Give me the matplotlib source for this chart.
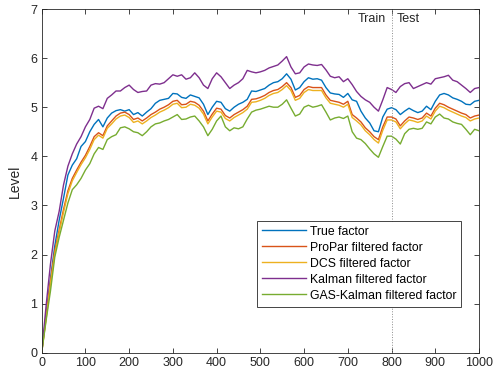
import numpy as np
import matplotlib
matplotlib.use("Agg")
import matplotlib.pyplot as plt

plt.rcParams['font.family'] = ['Liberation Sans', 'DejaVu Sans']

# time index, one value every 10 steps
t = np.arange(0, 1001, 10)

true_factor = [
    0.00, 0.77, 1.50, 2.18, 2.70, 3.15, 3.62, 3.82, 3.95, 4.20,
    4.30, 4.50, 4.65, 4.75, 4.60, 4.78, 4.88, 4.93, 4.95, 4.92,
    4.95, 4.85, 4.89, 4.82, 4.90, 4.97, 5.08, 5.14, 5.16, 5.18,
    5.28, 5.27, 5.20, 5.18, 5.25, 5.22, 5.19, 5.06, 4.85, 5.00,
    5.12, 5.10, 4.97, 4.92, 5.00, 5.06, 5.10, 5.16, 5.33, 5.32,
    5.35, 5.38, 5.45, 5.50, 5.52, 5.58, 5.68, 5.57, 5.35, 5.40,
    5.52, 5.60, 5.57, 5.58, 5.55, 5.40, 5.29, 5.27, 5.26, 5.20,
    5.28, 5.15, 5.12, 4.92, 4.78, 4.68, 4.52, 4.50, 4.80, 4.96,
    4.99, 4.95, 4.85, 4.92, 4.98, 4.93, 4.89, 4.92, 5.02, 4.95,
    5.12, 5.25, 5.28, 5.25, 5.19, 5.16, 5.12, 5.06, 5.05, 5.12,
    5.14,
]

propar = [
    0.00, 0.72, 1.45, 2.08, 2.50, 2.92, 3.30, 3.55, 3.72, 3.88,
    4.02, 4.20, 4.40, 4.48, 4.42, 4.62, 4.72, 4.82, 4.88, 4.90,
    4.85, 4.75, 4.78, 4.72, 4.78, 4.85, 4.90, 4.96, 5.00, 5.05,
    5.12, 5.14, 5.05, 5.06, 5.12, 5.10, 5.04, 4.92, 4.72, 4.86,
    4.98, 4.96, 4.83, 4.78, 4.85, 4.90, 4.95, 5.02, 5.16, 5.17,
    5.20, 5.24, 5.30, 5.34, 5.36, 5.42, 5.50, 5.40, 5.20, 5.24,
    5.36, 5.42, 5.40, 5.40, 5.40, 5.25, 5.14, 5.12, 5.10, 5.06,
    5.12, 4.85, 4.78, 4.70, 4.58, 4.50, 4.40, 4.34, 4.60, 4.80,
    4.80, 4.76, 4.62, 4.72, 4.80, 4.78, 4.75, 4.78, 4.88, 4.82,
    4.98, 5.08, 5.05, 5.00, 4.96, 4.92, 4.88, 4.85, 4.78, 4.82,
    4.84,
]

dcs = [
    0.00, 0.68, 1.40, 2.02, 2.45, 2.86, 3.24, 3.50, 3.67, 3.83,
    3.97, 4.14, 4.34, 4.43, 4.37, 4.57, 4.66, 4.76, 4.82, 4.84,
    4.79, 4.69, 4.72, 4.66, 4.72, 4.79, 4.84, 4.90, 4.94, 4.99,
    5.06, 5.08, 4.99, 5.00, 5.06, 5.04, 4.98, 4.86, 4.66, 4.80,
    4.92, 4.90, 4.77, 4.72, 4.79, 4.84, 4.89, 4.96, 5.10, 5.11,
    5.14, 5.18, 5.24, 5.28, 5.30, 5.36, 5.44, 5.34, 5.14, 5.18,
    5.30, 5.36, 5.34, 5.34, 5.34, 5.19, 5.08, 5.06, 5.04, 5.00,
    5.06, 4.79, 4.72, 4.64, 4.52, 4.44, 4.34, 4.27, 4.53, 4.74,
    4.74, 4.70, 4.56, 4.66, 4.74, 4.72, 4.69, 4.72, 4.82, 4.76,
    4.92, 5.02, 4.99, 4.94, 4.90, 4.86, 4.82, 4.79, 4.72, 4.76,
    4.78,
]

kalman = [
    0.00, 0.95, 1.80, 2.48, 2.88, 3.42, 3.80, 4.05, 4.25, 4.40,
    4.60, 4.75, 4.98, 5.02, 4.97, 5.18, 5.25, 5.33, 5.33, 5.40,
    5.45, 5.36, 5.30, 5.32, 5.33, 5.45, 5.48, 5.47, 5.50, 5.58,
    5.66, 5.63, 5.66, 5.57, 5.60, 5.70, 5.60, 5.45, 5.38, 5.58,
    5.70, 5.62, 5.50, 5.38, 5.45, 5.50, 5.58, 5.75, 5.72, 5.70,
    5.72, 5.75, 5.80, 5.83, 5.86, 5.94, 6.03, 5.82, 5.68, 5.70,
    5.82, 5.88, 5.86, 5.85, 5.87, 5.76, 5.63, 5.60, 5.62, 5.52,
    5.58, 5.46, 5.32, 5.22, 5.15, 5.10, 5.00, 4.92, 5.15, 5.40,
    5.36, 5.30, 5.42, 5.48, 5.50, 5.38, 5.42, 5.46, 5.50, 5.47,
    5.58, 5.60, 5.62, 5.65, 5.55, 5.52, 5.45, 5.38, 5.30, 5.38,
    5.40,
]

gas_kalman = [
    0.00, 0.65, 1.25, 1.95, 2.35, 2.70, 3.05, 3.32, 3.42, 3.55,
    3.72, 3.85, 4.05, 4.18, 4.14, 4.34, 4.40, 4.44, 4.58, 4.60,
    4.56, 4.50, 4.48, 4.42, 4.50, 4.60, 4.66, 4.68, 4.72, 4.75,
    4.80, 4.85, 4.75, 4.76, 4.80, 4.82, 4.72, 4.60, 4.42, 4.55,
    4.72, 4.82, 4.60, 4.52, 4.58, 4.56, 4.60, 4.76, 4.90, 4.94,
    4.96, 4.99, 5.02, 5.00, 5.00, 5.06, 5.15, 4.98, 4.82, 4.86,
    5.00, 5.04, 5.00, 5.02, 5.05, 4.90, 4.74, 4.78, 4.80, 4.77,
    4.82, 4.50, 4.37, 4.34, 4.26, 4.15, 4.05, 3.98, 4.20, 4.41,
    4.41, 4.35, 4.25, 4.46, 4.55, 4.57, 4.55, 4.57, 4.70, 4.66,
    4.80, 4.86, 4.78, 4.76, 4.70, 4.67, 4.65, 4.55, 4.44, 4.55,
    4.52,
]

series = [
    (true_factor, "True factor", "#0072BD"),
    (propar, "ProPar filtered factor", "#D95319"),
    (dcs, "DCS filtered factor", "#EDB120"),
    (kalman, "Kalman filtered factor", "#7E2F8E"),
    (gas_kalman, "GAS-Kalman filtered factor", "#77AC30"),
]

split = 800

fig = plt.figure(figsize=(4.95, 3.83), dpi=100)
ax = fig.add_axes([0.0842, 0.0791, 0.8835, 0.8974])

for vals, name, col in series:
    ax.plot(t, vals, color=col, lw=1.0, label=name)

ax.axvline(split, color="#8c8c8c", lw=0.7, ls=":")
ax.text(split - 12, 6.8, "Train", ha="right", va="center", fontsize=9, color="#262626")
ax.text(split + 12, 6.8, "Test", ha="left", va="center", fontsize=9, color="#262626")

ax.set_xlim(0, 1000)
ax.set_ylim(0, 7)
ax.set_xticks(np.arange(0, 1001, 100))
ax.set_yticks(np.arange(0, 8, 1))
ax.set_ylabel("Level", fontsize=10, color="#262626", labelpad=6)

for s in ax.spines.values():
    s.set_color("#262626")
    s.set_linewidth(0.6)
ax.tick_params(direction="in", length=3.5, width=0.6, top=True, right=True,
               labelsize=9, colors="#262626", pad=3)

leg = ax.legend(loc="lower right", bbox_to_anchor=(0.959, 0.134), fontsize=8.8,
                fancybox=False, framealpha=1, edgecolor="#262626",
                handlelength=3.6, labelspacing=0.33, borderpad=0.4,
                handletextpad=0.3, borderaxespad=0)
leg.get_frame().set_linewidth(0.6)

fig.savefig("out.png", dpi=100)
